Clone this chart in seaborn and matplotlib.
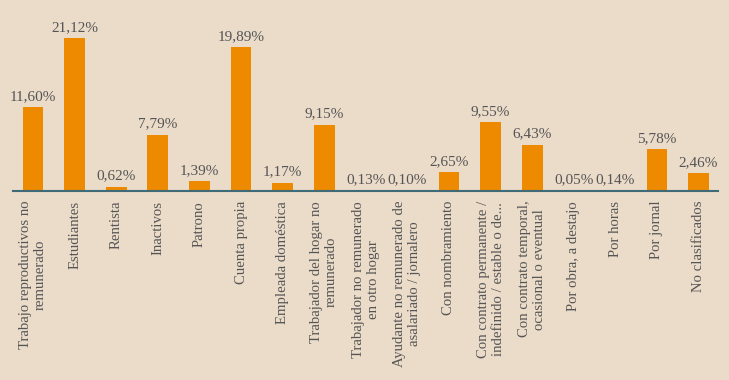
import pandas as pd
import matplotlib.pyplot as plt
import seaborn as sns

# datos
categorias = [
    "Trabajo reproductivos no\nremunerado",
    "Estudiantes",
    "Rentista",
    "Inactivos",
    "Patrono",
    "Cuenta propia",
    "Empleada doméstica",
    "Trabajador del hogar no\nremunerado",
    "Trabajador no remunerado\nen otro hogar",
    "Ayudante no remunerado de\nasalariado / jornalero",
    "Con nombramiento",
    "Con contrato permanente /\nindefinido / estable o de...",
    "Con contrato temporal,\nocasional o eventual",
    "Por obra, a destajo",
    "Por horas",
    "Por jornal",
    "No clasificados",
]
porcentajes = [11.60, 21.12, 0.62, 7.79, 1.39, 19.89, 1.17, 9.15, 0.13, 0.10,
               2.65, 9.55, 6.43, 0.05, 0.14, 5.78, 2.46]

fondo = "#ebdbc9"
naranja = "#ee8a00"
gris = "#555555"

df = pd.DataFrame({"categoria": categorias, "porcentaje": porcentajes})

plt.rcParams["font.family"] = ["Liberation Serif", "DejaVu Serif"]

fig = plt.figure(figsize=(7.29, 3.80), dpi=100, facecolor=fondo)
ax = fig.add_axes([0.018, 0.497, 0.967, 0.477])
ax.set_facecolor(fondo)

sns.barplot(data=df, x="categoria", y="porcentaje", color=naranja,
            saturation=1, width=0.5, ax=ax)

etiquetas = [f"{v:.2f}".replace(".", ",") + "%" for v in porcentajes]
ax.bar_label(ax.containers[0], labels=etiquetas, padding=3,
             fontsize=11, color=gris)

ax.set_ylim(0, 25)
ax.set_xlim(-0.48, len(categorias) - 0.53)
ax.set_yticks([])
ax.set_xlabel("")
ax.set_ylabel("")
ax.tick_params(axis="x", length=0, pad=7)
ax.set_xticks(range(len(categorias)))
ax.set_xticklabels(categorias, rotation=90, ha="center", va="top",
                   multialignment="center", fontsize=10.6, color=gris)

for lado in ["top", "right", "left"]:
    ax.spines[lado].set_visible(False)
ax.spines["bottom"].set_color("#3f6a78")
ax.spines["bottom"].set_linewidth(1.5)

fig.savefig("out.png", dpi=100, facecolor=fondo)
